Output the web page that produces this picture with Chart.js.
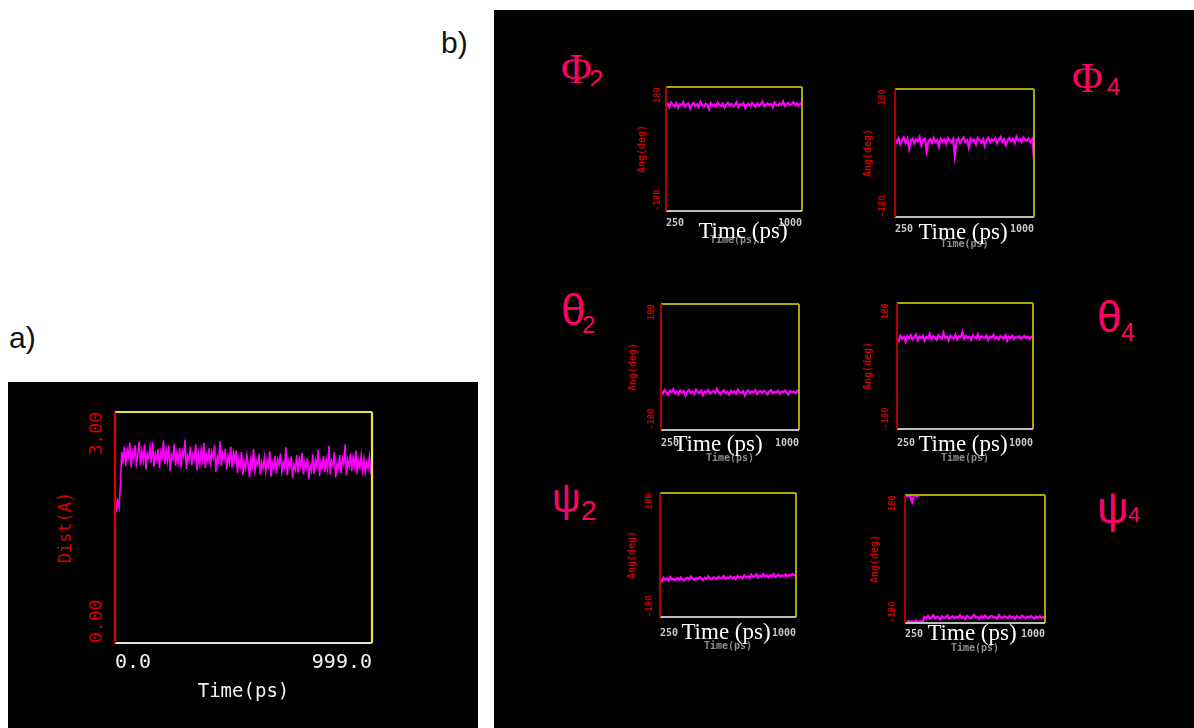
<!DOCTYPE html>
<html>
<head>
<meta charset="utf-8">
<script src="https://cdn.jsdelivr.net/npm/chart.js@4"></script>
<style>
  html, body { margin: 0; padding: 0; background: #fff; }
  body { width: 1194px; height: 728px; position: relative; overflow: hidden; }
  .blk { position: absolute; background: #000; }
  .lbl { position: absolute; line-height: 1; white-space: nowrap; }
  canvas { position: absolute; }
</style>
</head>
<body>
<div class="blk" style="left:8px;top:382px;width:470px;height:346px"></div>
<div class="blk" style="left:494px;top:10px;width:700px;height:718px"></div>
<script>
// a) distance vs time
const distTicksX = ['0.0', '999.0'];
const distTicksY = ['0.00', '3.00'];
const distVals = [1.95, 1.70, 1.84, 1.76, 2.05, 2.48,
  2.36, 2.55, 2.30, 2.51, 2.42, 2.60, 2.28, 2.47, 2.39, 2.57, 2.33, 2.44, 2.62, 2.31, 2.49, 2.37, 2.58, 2.25,
  2.46, 2.40, 2.54, 2.34, 2.61, 2.29, 2.45, 2.38, 2.52, 2.27, 2.48, 2.41, 2.63, 2.32, 2.50, 2.36, 2.56, 2.23,
  2.44, 2.39, 2.59, 2.30, 2.47, 2.35, 2.53, 2.28, 2.49, 2.42, 2.64, 2.26, 2.43, 2.37, 2.55, 2.31, 2.46, 2.40,
  2.58, 2.24, 2.45, 2.33, 2.51, 2.38, 2.60, 2.27, 2.44, 2.36, 2.53, 2.29, 2.48, 2.41, 2.57, 2.22, 2.42, 2.35,
  2.62, 2.30, 2.46, 2.38, 2.52, 2.25, 2.43, 2.34, 2.55, 2.28, 2.47, 2.37, 2.50,
  2.21, 2.39, 2.30, 2.48, 2.18, 2.35, 2.27, 2.44, 2.33, 2.15, 2.38, 2.29, 2.52, 2.24, 2.36, 2.31, 2.45, 2.19,
  2.34, 2.27, 2.41, 2.22, 2.37, 2.30, 2.49, 2.16, 2.33, 2.26, 2.43, 2.20, 2.38, 2.31, 2.46, 2.23, 2.35, 2.28,
  2.54, 2.18, 2.36, 2.29, 2.42, 2.14, 2.32, 2.25, 2.44, 2.21, 2.39, 2.30, 2.47, 2.19, 2.34, 2.27, 2.40, 2.13,
  2.31, 2.24, 2.45, 2.20, 2.37, 2.29, 2.51, 2.17, 2.35, 2.28, 2.43, 2.22, 2.38, 2.26, 2.56, 2.19, 2.36, 2.30,
  2.48, 2.15, 2.33, 2.27, 2.44, 2.21, 2.40, 2.32, 2.58, 2.18, 2.37, 2.29, 2.46, 2.23, 2.41, 2.31, 2.50, 2.20,
  2.36, 2.28, 2.44, 2.25, 2.39, 2.22, 2.34, 2.27, 2.42, 2.24, 2.31];

// b) dihedral angles (deg), 250-1000 ps
const angTicksX = ['250', '1000'];
const angTicksY = ['-180', '180'];
const phi2 = [126, 131, 122, 135, 128, 124, 133, 120, 130, 127, 136, 123, 129, 132, 118, 128, 134, 125, 130, 121,
  137, 127, 124, 131, 129, 116, 133, 126, 130, 123, 135, 128, 125, 132, 120, 129, 134, 126, 131, 124, 128, 136,
  122, 130, 127, 133, 119, 129, 131, 125, 134, 128, 123, 132, 126, 130, 137, 124, 129, 133, 127, 131, 121, 135,
  128, 126, 132, 129, 138, 125, 131, 134, 127, 130, 136, 128, 133, 126, 131, 135];
const phi4 = [38, 30, 42, 25, 36, 44, 28, 39, 12, 35, 41, 27, 38, 33, 45, 22, 37, 40, 5, 34, 39, 29, 43, 31, 36,
  18, 40, 33, 38, 26, 42, 35, 30, 39, -8, 34, 41, 28, 37, 44, 31, 36, 15, 40, 33, 38, 25, 42, 36, 29, 39, 20, 35,
  43, 30, 38, 34, 41, 27, 37, 45, 32, 39, 22, 36, 42, 33, 40, 28, 46, 35, 39, 31, 43, 37, 34, 41, 30, 38, -15];
const theta2 = [-70, -76, -66, -73, -79, -68, -72, -64, -75, -70, -78, -67, -73, -69, -82, -71, -66, -74, -70, -77,
  -65, -72, -75, -68, -80, -70, -73, -66, -76, -71, -69, -74, -63, -72, -78, -70, -67, -75, -71, -79, -68, -73,
  -70, -76, -65, -72, -74, -69, -81, -71, -67, -75, -70, -73, -66, -77, -71, -69, -74, -68, -72, -78, -70, -66,
  -75, -71, -73, -68, -76, -70, -72, -67, -74, -79, -69, -72, -70, -75, -68, -73];
const theta4 = [80, 72, 86, 78, 83, 69, 85, 79, 88, 76, 82, 90, 74, 84, 80, 87, 73, 83, 79, 92, 77, 85, 81, 75, 88,
  82, 78, 95, 80, 84, 73, 87, 81, 79, 89, 76, 85, 82, 97, 78, 86, 80, 84, 75, 88, 83, 79, 91, 77, 85, 82, 80, 87,
  74, 84, 81, 89, 78, 83, 76, 86, 82, 79, 88, 73, 84, 80, 87, 77, 83, 81, 85, 78, 82, 86, 79, 84, 77, 83, 85];
const psi2 = [-70, -77, -66, -72, -68, -75, -64, -71, -69, -73, -67, -72, -65, -70, -74, -68, -66, -71, -63, -69,
  -72, -67, -70, -64, -68, -73, -66, -69, -62, -68, -71, -65, -67, -70, -63, -68, -66, -61, -69, -65, -67, -62,
  -68, -64, -70, -61, -66, -63, -68, -59, -65, -62, -67, -57, -64, -61, -56, -66, -60, -63, -55, -62, -59, -65,
  -58, -62, -55, -64, -60, -57, -63, -59, -61, -56, -62, -58, -60, -55, -59, -57];
// psi4 wraps around +/-180: short upper branch at the start, then the lower one
const psi4Hi = [179, 176, 178, 175, 160, 177, 179, 176, 178];
const psi4Lo = [-176, -178, -174, -177, -175, -179, -173, -176, -178, -175, -177, -163, -166, -160, -168, -164,
  -158, -167, -162, -165, -170, -161, -166, -163, -159, -168, -164, -161, -167, -162, -165, -158, -166, -163,
  -169, -160, -164, -167, -162, -157, -165, -163, -168, -161, -166, -159, -164, -167, -162, -160, -165, -163,
  -168, -158, -164, -166, -161, -163, -167, -160, -165, -162, -169, -161, -164, -166, -159, -163, -167, -162,
  -165, -160, -164, -168, -162, -166, -161, -165, -163, -167];

// sample times: evenly spaced frames
function times(n, t0, t1, count) {
  const out = [];
  for (let i = 0; i < count; i++) out.push(t0 + i * (t1 - t0) / (n - 1));
  return out;
}

// frame + rotated y tick labels + overlay caption
const frame = {
  id: 'frame',
  afterDraw(chart, args, o) {
    const { ctx, chartArea: a, scales: { y } } = chart;
    ctx.save();
    ctx.lineWidth = o.lw;
    const line = (c, x1, y1, x2, y2) => {
      ctx.strokeStyle = c; ctx.beginPath(); ctx.moveTo(x1, y1); ctx.lineTo(x2, y2); ctx.stroke();
    };
    line(o.top, a.left, a.top, a.right, a.top);
    line(o.top, a.right, a.top, a.right, a.bottom);
    line(o.bottom, a.left, a.bottom, a.right, a.bottom);
    line(o.left, a.left, a.top, a.left, a.bottom);

    ctx.fillStyle = o.tickColor;
    ctx.font = o.tickFont;
    ctx.textBaseline = 'middle';
    [[y.min, 'left'], [y.max, 'right']].forEach(([v, al], i) => {
      ctx.save();
      ctx.translate(o.tickX, y.getPixelForValue(v));
      ctx.rotate(-Math.PI / 2);
      ctx.textAlign = al;
      ctx.fillText(o.yTicks[i], 0, 0);
      ctx.restore();
    });

    if (o.caption) {
      ctx.fillStyle = '#ffffff';
      ctx.font = '23px "Liberation Serif", serif';
      ctx.textAlign = 'center';
      ctx.fillText(o.caption, o.capX, o.capY);
    }
    ctx.restore();
  }
};

function plot(s) {
  const cl = s.L - s.pl, ct = s.T - s.pt;
  const w = s.R - s.L + s.pl + s.pr, h = s.B - s.T + s.pt + s.pb;
  const cv = document.createElement('canvas');
  cv.width = w; cv.height = h;
  cv.style.left = cl + 'px'; cv.style.top = ct + 'px';
  cv.style.width = w + 'px'; cv.style.height = h + 'px';
  document.body.appendChild(cv);

  const lh = size => size * 1.2;
  const datasets = s.series.map(ser => ({
    data: ser.t.map((x, i) => ({ x: x, y: ser.v[i] })),
    borderColor: '#ff00ff',
    borderWidth: s.lw,
    pointRadius: 0,
    tension: 0
  }));

  new Chart(cv, {
    type: 'line',
    data: { datasets: datasets },
    options: {
      responsive: false,
      animation: false,
      events: [],
      layout: { padding: { top: s.pt, right: s.pr, left: 0, bottom: 0 } },
      plugins: {
        legend: { display: false },
        tooltip: { enabled: false },
        frame: {
          lw: s.frameW, left: s.cLeft, top: s.cTop, bottom: s.cBottom,
          tickColor: s.yTickColor, tickFont: s.yTickFont, tickX: s.yTickX - cl, yTicks: s.yTicks,
          caption: s.caption, capX: s.capX - cl, capY: s.capY - ct
        }
      },
      scales: {
        x: {
          type: 'linear', min: s.xMin, max: s.xMax,
          afterBuildTicks: sc => { sc.ticks = [{ value: s.xMin }, { value: s.xMax }]; },
          afterFit: sc => { sc.height = s.pb; },
          grid: { display: false, drawTicks: false },
          border: { display: false },
          ticks: {
            align: 'inner', color: s.xTickColor, autoSkip: false, maxRotation: 0,
            font: { family: 'DejaVu Sans Mono', size: s.xTickSize, weight: s.bold },
            padding: s.xTickY - s.B - lh(s.xTickSize) / 2,
            callback: (v, i) => s.xTicks[i]
          },
          title: {
            display: true, text: s.xTitle, color: s.xTitleColor,
            font: { family: 'DejaVu Sans Mono', size: s.xTitleSize, weight: s.bold },
            padding: { top: 0, bottom: (ct + h) - s.xTitleY - lh(s.xTitleSize) / 2 }
          }
        },
        y: {
          min: s.yMin, max: s.yMax,
          afterFit: sc => { sc.width = s.pl; },
          grid: { display: false },
          border: { display: false },
          ticks: { display: false },
          title: {
            display: true, text: s.yTitle, color: s.yTitleColor,
            font: { family: 'DejaVu Sans Mono', size: s.yTitleSize, weight: s.bold },
            padding: { top: s.yTitleX - cl - lh(s.yTitleSize) / 2, bottom: 0 }
          }
        }
      }
    },
    plugins: [frame]
  });
}

// panel a
plot({
  L: 115, T: 412, R: 372, B: 643, pl: 107, pt: 30, pr: 106, pb: 85,
  xMin: 0, xMax: 999, yMin: 0, yMax: 3, lw: 1.6, bold: 'normal',
  series: [{ t: times(distVals.length, 0, 999, distVals.length), v: distVals }],
  xTicks: distTicksX, xTickSize: 20, xTickY: 663, xTickColor: '#f2f2f2',
  xTitle: 'Time(ps)', xTitleSize: 19, xTitleY: 692, xTitleColor: '#f2f2f2',
  yTicks: distTicksY, yTickFont: '18px "DejaVu Sans Mono"', yTickX: 97, yTickColor: '#e00000',
  yTitle: 'Dist(A)', yTitleSize: 17, yTitleX: 67, yTitleColor: '#e00000',
  frameW: 2.2, cLeft: '#e00000', cTop: '#e6e64a', cBottom: '#e0e0e0'
});

// panel b
const small = [
  { v: [phi2], L: 666, T: 87, R: 802, B: 211, yTickX: 658, yTitleX: 642, xTickY: 223, xTitleY: 240, capX: 743, capY: 232 },
  { v: [phi4], L: 895, T: 89, R: 1034, B: 217, yTickX: 883, yTitleX: 868, xTickY: 229, xTitleY: 244, capX: 963, capY: 233 },
  { v: [theta2], L: 661, T: 304, R: 800, B: 430, yTickX: 652, yTitleX: 633, xTickY: 443, xTitleY: 458, capX: 718, capY: 445 },
  { v: [theta4], L: 897, T: 303, R: 1035, B: 429, yTickX: 886, yTitleX: 868, xTickY: 443, xTitleY: 458, capX: 963, capY: 445 },
  { v: [psi2], L: 660, T: 493, R: 800, B: 617, yTickX: 650, yTitleX: 632, xTickY: 633, xTitleY: 646, capX: 726, capY: 633 },
  { v: [psi4Lo, psi4Hi], L: 905, T: 495, R: 1045, B: 623, yTickX: 893, yTitleX: 875, xTickY: 634, xTitleY: 648, capX: 972, capY: 634 }
];
small.forEach(p => {
  const n = p.v[0].length;
  plot(Object.assign({}, p, {
    pl: 50, pt: 6, pr: 6, pb: 46,
    xMin: 250, xMax: 1000, yMin: -180, yMax: 180, lw: 2.2, bold: 'bold',
    series: p.v.map(vals => ({ t: times(n, 250, 1000, vals.length), v: vals })),
    xTicks: angTicksX, xTickSize: 10, xTickColor: '#c8c8c8',
    xTitle: 'Time(ps)', xTitleSize: 10, xTitleColor: '#8c8c8c',
    yTicks: angTicksY, yTickFont: 'bold 9px "DejaVu Sans Mono"', yTickColor: '#c80000',
    yTitle: 'Ang(deg)', yTitleSize: 10, yTitleColor: '#c80000',
    frameW: 2, cLeft: '#b00000', cTop: '#a8a800', cBottom: '#bdbdbd',
    caption: 'Time (ps)'
  }));
});

// panel letters and angle names
function label(text, x, base, size, family, asc, color, clipBottom) {
  const el = document.createElement('span');
  el.className = 'lbl';
  el.textContent = text;
  el.style.left = x + 'px';
  el.style.top = (base - asc * size) + 'px';
  el.style.fontSize = size + 'px';
  el.style.fontFamily = family;
  el.style.color = color;
  if (clipBottom) el.style.clipPath = 'inset(0 0 ' + (base - asc * size + size - clipBottom) + 'px 0)';
  document.body.appendChild(el);
}
const SANS = '"Liberation Sans", Arial, sans-serif', SERIF = '"Liberation Serif", "Times New Roman", serif';
const PINK = '#ff0066';
label('a)', 9, 348, 30, SANS, 0.8465, '#111');
label('b)', 441, 53, 30, SANS, 0.8465, '#111');
label('Φ', 561, 83, 42, SERIF, 0.8375, PINK);
label('2', 589, 88, 26, SANS, 0.8465, PINK, 86);
label('Φ', 1072, 92, 42, SERIF, 0.8375, PINK);
label('4', 1107, 95, 24, SANS, 0.8465, PINK);
label('θ', 561, 325, 44, SANS, 0.8465, PINK);
label('2', 582, 333, 24, SANS, 0.8465, PINK);
label('θ', 1097, 332, 44, SANS, 0.8465, PINK);
label('4', 1121, 341, 25, SANS, 0.8465, PINK);
label('ψ', 552, 512, 40, SANS, 0.8465, PINK);
label('2', 581, 521, 28, SANS, 0.8465, PINK);
label('ψ', 1097, 523, 44, SANS, 0.8465, PINK);
label('4', 1128, 523, 22, SANS, 0.8465, PINK);
</script>
</body>
</html>
